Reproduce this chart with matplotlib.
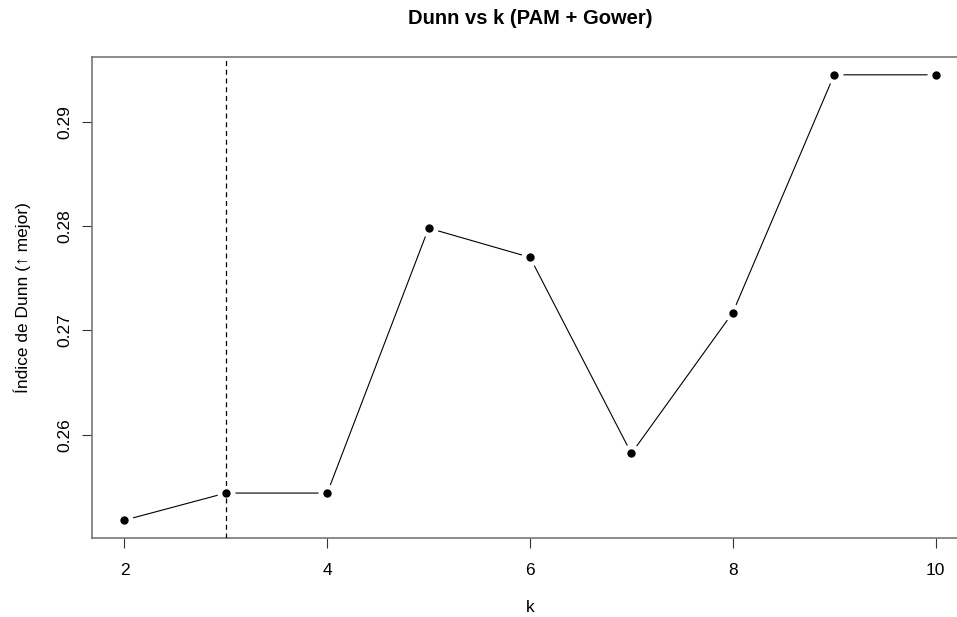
import matplotlib
matplotlib.use("Agg")
import matplotlib.pyplot as plt

k = [2, 3, 4, 5, 6, 7, 8, 9, 10]
dunn = [0.2518, 0.2544, 0.2544, 0.2798, 0.2770, 0.2582, 0.2717, 0.2945, 0.2945]
k_elegido = 3
xticks = [2, 4, 6, 8, 10]
yticks = [0.26, 0.27, 0.28, 0.29]

plt.rcParams["font.family"] = ["Liberation Sans", "DejaVu Sans"]

fig = plt.figure(figsize=(9.57, 6.17), dpi=100)
ax = fig.add_axes([92 / 957, 79 / 617, 876 / 957, 481 / 617])

# estilo type="b" de R: linea con huecos alrededor de los puntos
ax.plot(k, dunn, color="black", lw=0.8, zorder=2)
ax.plot(k, dunn, "o", ms=13, color="white", mec="none", zorder=3)
ax.plot(k, dunn, "o", ms=6, color="black", mec="none", zorder=4)
ax.axvline(k_elegido, color="black", lw=0.9, dashes=(4, 3), zorder=5)

pad_x = (max(k) - min(k)) * 0.04
pad_y = (max(dunn) - min(dunn)) * 0.04
ax.set_xlim(min(k) - pad_x, max(k) + pad_x)
ax.set_ylim(min(dunn) - pad_y, max(dunn) + pad_y)

ax.set_xticks(xticks)
ax.set_xticklabels([str(t) for t in xticks])
ax.set_yticks(yticks)
ax.set_yticklabels([f"{t:.2f}" for t in yticks], rotation=90, va="center")
ax.tick_params(axis="both", length=7, width=0.8, labelsize=12.5, color="#333333")
ax.tick_params(axis="x", pad=11)
ax.tick_params(axis="y", pad=7)

for s in ax.spines.values():
    s.set_color("#777777")
    s.set_linewidth(1.2)
ax.spines["right"].set_visible(False)

fig.text(0.5 * (92 + 968) / 957, 1 - 19 / 617, "Dunn vs k (PAM + Gower)",
         ha="center", va="center", fontsize=14.5, fontweight="bold")
fig.text(0.5 * (92 + 968) / 957, 1 - 607 / 617, "k", ha="center", va="center", fontsize=12.5)
fig.text(22 / 957, 1 - ((57 + 538) / 2) / 617, "Índice de Dunn (↑ mejor)",
         ha="center", va="center", rotation=90, fontsize=12.5)

fig.savefig("out.png", dpi=100)
